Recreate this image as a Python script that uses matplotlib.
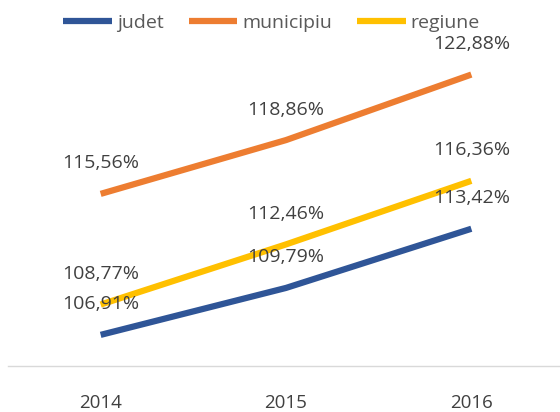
import matplotlib

matplotlib.use("Agg")
import matplotlib.pyplot as plt

years = ["2014", "2015", "2016"]
judet = [106.91, 109.79, 113.42]
municipiu = [115.56, 118.86, 122.88]
regiune = [108.77, 112.46, 116.36]

series = [
    ("judet", judet, "#2F5597"),
    ("municipiu", municipiu, "#ED7D31"),
    ("regiune", regiune, "#FFC000"),
]

plt.rcParams["font.family"] = ["Open Sans", "DejaVu Sans"]
text_color = "#404040"

fig = plt.figure(figsize=(5.6, 4.12), dpi=100)
ax = fig.add_axes([8 / 560, 46 / 412, 556 / 560, 326 / 412])

x = list(range(len(years)))
for name, vals, color in series:
    ax.plot(x, vals, color=color, linewidth=4.5, label=name, solid_capstyle="butt")
    for xi, v in zip(x, vals):
        label = f"{v:.2f}%".replace(".", ",")
        ax.annotate(label, (xi, v), xytext=(0, 22), textcoords="offset points",
                    ha="center", va="center", fontsize=14, color=text_color)

ax.set_xlim(-0.5, 2.5)
ax.set_ylim(105, 125)
ax.set_xticks(x)
ax.set_xticklabels(years, fontsize=13.5, color=text_color)
ax.tick_params(axis="x", length=0, pad=20)
ax.set_yticks([])
for side in ["left", "right", "top"]:
    ax.spines[side].set_visible(False)
ax.spines["bottom"].set_color("#D9D9D9")
ax.spines["bottom"].set_linewidth(1)

fig.legend(loc="upper center", bbox_to_anchor=(0.485, 1.008), ncol=3, frameon=False,
           fontsize=14, labelcolor="#595959", handlelength=2.5, columnspacing=1.3,
           handletextpad=0.25)

plt.savefig("out.png", dpi=100)
